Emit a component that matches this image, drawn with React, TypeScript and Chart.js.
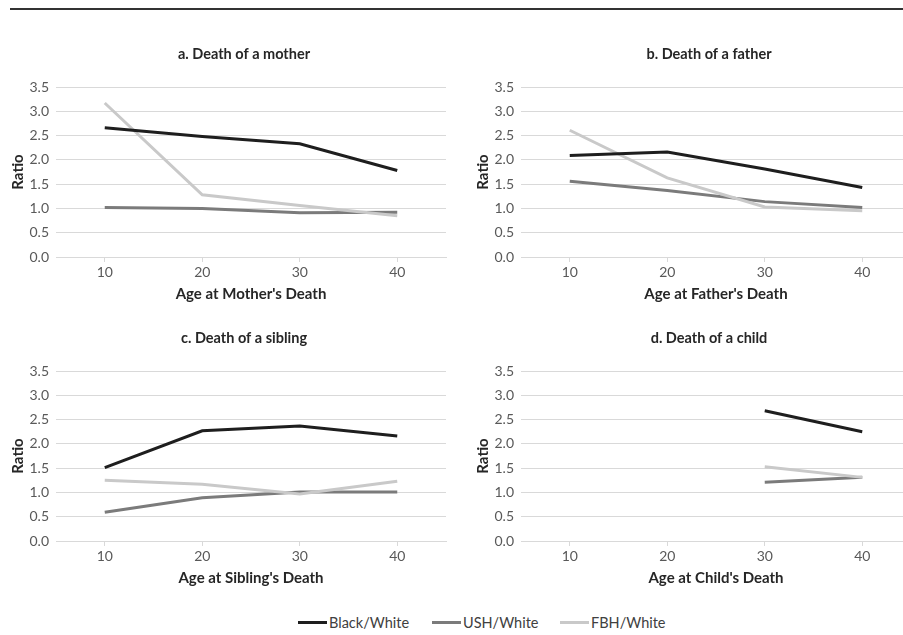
import React, { useEffect, useRef } from "react";
import { Chart, registerables } from "chart.js";
Chart.register(...registerables);

const ages = ["10", "20", "30", "40"];
const seriesNames = ["Black/White", "USH/White", "FBH/White"];
const seriesColors = ["#1e1e1e", "#7b7b7b", "#c9c9c9"];
const seriesOrder = [1, 3, 2];

const motherBlack = [2.66, 2.48, 2.33, 1.78];
const motherUSH = [1.02, 1.0, 0.91, 0.92];
const motherFBH = [3.17, 1.28, 1.06, 0.85];

const fatherBlack = [2.09, 2.16, 1.81, 1.43];
const fatherUSH = [1.56, 1.37, 1.14, 1.02];
const fatherFBH = [2.61, 1.63, 1.03, 0.95];

const siblingBlack = [1.51, 2.27, 2.37, 2.16];
const siblingUSH = [0.59, 0.89, 1.01, 1.01];
const siblingFBH = [1.25, 1.17, 0.97, 1.23];

const childBlack = [null, null, 2.68, 2.25];
const childUSH = [null, null, 1.21, 1.31];
const childFBH = [null, null, 1.53, 1.31];

const panelTitles = ["a. Death of a mother", "b. Death of a father", "c. Death of a sibling", "d. Death of a child"];
const xTitles = ["Age at Mother's Death", "Age at Father's Death", "Age at Sibling's Death", "Age at Child's Death"];
const yTitle = "Ratio";

const FONT = 'Lato, "Open Sans", sans-serif';

type PanelProps = {
  title: string;
  xTitle: string;
  series: (number | null)[][];
  left: number;
  top: number;
};

function Panel({ title, xTitle, series, left, top }: PanelProps) {
  const ref = useRef<HTMLCanvasElement | null>(null);
  useEffect(() => {
    if (!ref.current) return;
    const panelTitlePlugin = {
      id: "panelTitle",
      afterDraw(chart: any) {
        const { ctx, chartArea } = chart;
        ctx.save();
        ctx.font = `bold 14.5px ${FONT}`;
        ctx.fillStyle = "#262626";
        ctx.textAlign = "center";
        ctx.textBaseline = "middle";
        ctx.fillText(title, (chartArea.left + chartArea.right) / 2 - 7, 24);
        ctx.restore();
      },
    };
    const chart = new Chart(ref.current, {
      type: "line",
      data: {
        labels: ages,
        datasets: series.map((d, i) => ({
          label: seriesNames[i],
          data: d,
          borderColor: seriesColors[i],
          backgroundColor: seriesColors[i],
          borderWidth: 3,
          pointRadius: 0,
          tension: 0,
          fill: false,
          order: seriesOrder[i],
          spanGaps: false,
        })),
      },
      options: {
        animation: false,
        responsive: false,
        maintainAspectRatio: false,
        layout: { padding: { top: 57, left: 0, right: 9, bottom: 0 } },
        plugins: {
          legend: { display: false },
          tooltip: { enabled: false },
          title: { display: false },
        },
        scales: {
          x: {
            type: "category",
            offset: true,
            grid: {
              offset: false,
              drawOnChartArea: false,
              drawTicks: true,
              tickLength: 5,
              color: "#d9d9d9",
            },
            border: { display: true, color: "#d9d9d9", width: 1 },
            ticks: {
              color: "#595959",
              font: { family: FONT, size: 14 },
              padding: 2,
              maxRotation: 0,
              autoSkip: false,
            },
            title: {
              display: true,
              text: xTitle,
              color: "#262626",
              font: { family: FONT, size: 15, weight: "bold" },
              padding: { top: 12, bottom: 12 },
            },
            afterFit: (s: any) => {
              s.height = 58;
            },
          },
          y: {
            min: 0,
            max: 3.5,
            ticks: {
              stepSize: 0.5,
              callback: (v: any) => Number(v).toFixed(1),
              color: "#595959",
              font: { family: FONT, size: 14 },
              padding: 7,
            },
            grid: { color: "#d9d9d9", drawTicks: false, lineWidth: 1 },
            border: { display: false },
            title: {
              display: true,
              text: yTitle,
              color: "#262626",
              font: { family: FONT, size: 15, weight: "bold" },
              padding: { top: 9, bottom: 9 },
            },
            afterFit: (s: any) => {
              s.width = 56;
            },
          },
        },
      } as any,
      plugins: [panelTitlePlugin],
    });
    return () => chart.destroy();
  }, []);
  return (
    <canvas
      ref={ref}
      width={455}
      height={285}
      style={{ position: "absolute", left, top, width: 455, height: 285 }}
    />
  );
}

export default function App() {
  const panels = [
    { series: [motherBlack, motherUSH, motherFBH], left: 0, top: 30 },
    { series: [fatherBlack, fatherUSH, fatherFBH], left: 465, top: 30 },
    { series: [siblingBlack, siblingUSH, siblingFBH], left: 0, top: 314 },
    { series: [childBlack, childUSH, childFBH], left: 465, top: 314 },
  ];
  const legendLefts = [298, 432, 560];
  return (
    <div
      style={{
        position: "absolute",
        left: 0,
        top: 0,
        width: 903,
        height: 635,
        overflow: "hidden",
        background: "#ffffff",
        fontFamily: FONT,
      }}
    >
      <div style={{ position: "absolute", left: 10, top: 8, width: 893, height: 2, background: "#333333" }} />
      {panels.map((p, i) => (
        <Panel key={i} title={panelTitles[i]} xTitle={xTitles[i]} series={p.series} left={p.left} top={p.top} />
      ))}
      {seriesNames.map((n, i) => (
        <div
          key={n}
          style={{
            position: "absolute",
            left: legendLefts[i],
            top: 613,
            height: 18,
            display: "flex",
            alignItems: "center",
            fontSize: 14.5,
            color: "#404040",
            whiteSpace: "nowrap",
          }}
        >
          <span style={{ display: "inline-block", width: 29, height: 3, background: seriesColors[i], marginRight: 2 }} />
          <span>{n}</span>
        </div>
      ))}
    </div>
  );
}
